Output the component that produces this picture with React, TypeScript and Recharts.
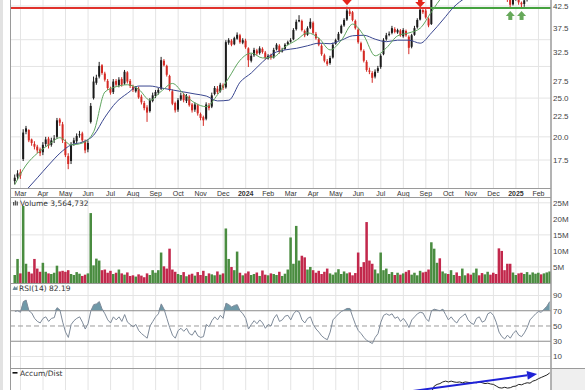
import React from "react";
import {
  ComposedChart,
  Bar,
  Line,
  Area,
  XAxis,
  YAxis,
  CartesianGrid,
  ReferenceLine,
  ReferenceDot,
  Cell,
} from "recharts";

// month axis: 0 = Mar 2023 ... 23 = Feb 2025
const monthLabels = [
  "Mar", "Apr", "May", "Jun", "Jul", "Aug", "Sep", "Oct", "Nov", "Dec", "2024", "Feb",
  "Mar", "Apr", "May", "Jun", "Jul", "Aug", "Sep", "Oct", "Nov", "Dec", "2025", "Feb",
];
const monthTicks = monthLabels.map((_, i) => i);

// bars are sampled 8 per month, first one a week before March 2023
const FIRST_BAR = -0.25;
const BAR_STEP = 0.125;

const opens = [
  15.5, 15.9,
  16.3, 17.6, 20.6, 20.8, 19.7, 19.2, 18.9, 18.6,
  18.3, 19.2, 19.8, 19.1, 19.7, 20.0, 22.1, 21.5,
  19.4, 17.9, 17.4, 19.3, 19.5, 20.2, 20.4, 19.5,
  18.6, 21.8, 25.0, 27.3, 28.3, 30.2, 28.8, 27.6,
  26.4, 25.9, 27.6, 26.9, 27.9, 27.2, 29.0, 27.6,
  26.7, 26.0, 26.4, 25.2, 24.3, 23.7, 23.2, 24.6,
  25.3, 25.8, 26.4, 31.0, 30.1, 28.4, 26.0, 24.3,
  23.4, 24.8, 25.5, 24.6, 25.2, 24.1, 23.4, 24.0,
  22.8, 22.4, 22.2, 24.0, 23.8, 25.6, 26.4, 26.0,
  26.9, 26.6, 34.4, 34.8, 34.1, 35.2, 35.9, 34.4,
  34.8, 33.3, 31.0, 32.0, 32.9, 32.4, 33.2, 32.5,
  31.4, 32.0, 31.6, 33.1, 33.8, 32.7, 33.2, 34.1,
  34.6, 35.1, 37.2, 38.9, 39.0, 36.8, 36.0, 37.5,
  38.6, 36.2, 35.1, 33.8, 32.0, 30.9, 30.6, 31.6,
  34.2, 35.0, 36.4, 38.0, 39.3, 41.2, 41.0, 39.0,
  37.1, 34.3, 32.8, 30.8, 29.3, 28.9, 28.3, 29.2,
  29.9, 32.2, 35.1, 36.0, 36.4, 37.2, 36.5, 36.9,
  35.7, 36.8, 35.6, 33.6, 36.0, 37.6, 39.3, 41.5,
  41.4, 39.5, 38.3, 44.2, 46.2, 47.1, 46.6, 48.2,
  48.4, 47.6, 48.9, 49.4, 48.1, 47.9, 49.1, 50.0,
  48.8, 48.2, 49.6, 50.4, 49.6, 48.8, 49.5, 49.9,
  48.6, 47.4, 46.4, 45.8, 45.4, 45.1, 44.4, 42.9,
  44.1, 44.6, 43.3, 43.0, 44.0, 45.2, 46.6, 47.3,
  48.6, 49.1, 48.5, 50.1, 51.2,
];

const highs = [
  16.1, 16.5,
  16.6, 20.9, 21.3, 20.9, 19.8, 19.5, 19.1, 18.8,
  19.4, 20.0, 20.0, 19.9, 20.2, 22.3, 22.3, 21.8,
  19.7, 18.2, 19.4, 19.9, 20.4, 20.7, 20.6, 19.7,
  19.6, 24.3, 28.3, 28.6, 30.8, 30.4, 29.1, 27.9,
  26.7, 27.9, 27.9, 28.2, 28.2, 29.4, 29.2, 27.9,
  27.0, 26.8, 26.7, 25.5, 24.6, 24.0, 25.0, 25.8,
  26.2, 26.5, 31.7, 31.3, 30.3, 28.6, 26.3, 24.5,
  25.0, 25.8, 25.8, 25.6, 25.4, 24.3, 24.4, 24.2,
  23.0, 22.6, 24.4, 24.3, 25.8, 26.8, 26.8, 27.3,
  27.2, 34.9, 35.3, 35.1, 35.6, 36.5, 36.2, 35.3,
  35.2, 33.5, 32.3, 33.4, 33.2, 33.7, 33.5, 32.8,
  32.2, 32.3, 33.4, 34.3, 34.1, 33.4, 34.3, 34.8,
  35.3, 37.4, 39.3, 40.3, 39.3, 37.1, 37.8, 39.6,
  38.9, 36.6, 35.4, 34.1, 32.3, 31.3, 31.9, 34.4,
  35.2, 36.6, 38.2, 39.6, 42.3, 41.8, 41.3, 39.3,
  37.4, 34.6, 33.1, 31.1, 29.8, 29.2, 29.5, 30.1,
  32.2, 35.3, 36.4, 36.7, 37.9, 37.6, 37.3, 37.2,
  37.4, 37.1, 35.9, 36.2, 37.9, 39.6, 41.9, 41.7,
  41.8, 39.8, 44.5, 46.9, 47.6, 47.5, 48.5, 49.0,
  48.8, 49.2, 50.0, 49.8, 48.5, 49.5, 50.8, 50.4,
  49.2, 50.0, 51.0, 50.8, 49.9, 49.8, 50.5, 50.3,
  48.9, 47.8, 46.8, 46.1, 45.9, 45.4, 44.7, 44.5,
  45.3, 44.9, 43.6, 44.3, 45.4, 46.9, 47.8, 48.9,
  49.5, 49.4, 50.4, 51.5, 53.0,
];

const lows = [
  15.2, 15.6,
  15.7, 17.4, 20.3, 19.4, 19.0, 18.6, 18.2, 17.9,
  18.0, 18.9, 18.7, 18.9, 19.3, 19.8, 21.3, 19.3,
  17.8, 16.6, 17.1, 19.0, 19.2, 19.9, 19.4, 18.2,
  18.3, 21.6, 24.8, 27.0, 28.0, 28.6, 27.5, 26.2,
  25.5, 25.6, 26.7, 26.6, 26.7, 27.0, 27.2, 26.5,
  25.9, 25.8, 24.9, 24.1, 23.3, 21.8, 23.0, 24.4,
  25.0, 25.5, 26.2, 30.0, 28.3, 26.0, 24.0, 23.0,
  23.1, 24.6, 24.4, 24.3, 23.8, 23.0, 23.1, 22.6,
  22.0, 21.3, 22.0, 23.3, 23.6, 25.4, 25.6, 25.8,
  26.2, 26.4, 34.0, 33.7, 33.9, 35.0, 34.2, 34.1,
  33.2, 29.9, 30.7, 31.7, 32.0, 32.1, 32.3, 31.2,
  31.2, 31.2, 31.4, 32.9, 32.3, 32.5, 33.0, 33.9,
  34.4, 34.9, 36.9, 38.7, 36.7, 35.5, 35.8, 37.2,
  36.1, 35.0, 33.7, 31.9, 30.7, 30.1, 30.3, 31.4,
  34.0, 34.8, 36.2, 37.7, 39.0, 40.1, 38.9, 37.1,
  34.2, 32.7, 30.7, 29.1, 28.7, 27.3, 28.0, 28.9,
  29.6, 32.0, 34.8, 35.7, 36.1, 36.3, 36.2, 35.6,
  35.4, 35.6, 32.2, 33.3, 35.8, 37.3, 39.1, 40.6,
  39.5, 37.6, 38.1, 44.0, 45.9, 46.1, 46.4, 47.9,
  47.2, 47.4, 48.6, 47.9, 47.5, 47.6, 48.8, 48.7,
  47.6, 47.9, 49.3, 49.5, 48.3, 48.5, 49.2, 48.5,
  47.2, 46.3, 45.7, 45.2, 44.9, 43.5, 41.9, 42.6,
  43.8, 42.8, 41.9, 42.3, 43.6, 44.9, 46.3, 47.0,
  48.3, 48.1, 48.2, 49.8, 50.9,
];

const closes = [
  15.8, 16.2,
  16.0, 20.5, 21.0, 19.6, 19.3, 18.9, 18.5, 18.2,
  19.1, 19.7, 19.0, 19.6, 19.8, 22.0, 21.7, 19.6,
  18.0, 17.1, 19.1, 19.6, 20.1, 20.3, 19.6, 18.5,
  19.3, 23.9, 27.5, 28.1, 30.1, 28.9, 27.8, 26.5,
  25.8, 27.5, 27.0, 27.8, 27.0, 29.1, 27.5, 26.8,
  26.2, 26.5, 25.1, 24.4, 23.6, 23.0, 24.7, 25.4,
  25.9, 26.2, 31.1, 30.2, 28.6, 26.2, 24.2, 23.3,
  24.7, 25.4, 24.7, 25.3, 24.0, 23.3, 24.1, 22.9,
  22.3, 22.0, 24.1, 23.6, 25.4, 26.5, 25.9, 27.0,
  26.5, 34.5, 34.9, 34.0, 35.3, 36.0, 34.5, 34.9,
  33.5, 31.1, 31.9, 33.0, 32.3, 33.3, 32.6, 31.5,
  31.9, 31.5, 33.0, 34.0, 32.6, 33.0, 34.0, 34.5,
  34.9, 37.0, 38.8, 39.2, 37.0, 35.9, 37.4, 38.8,
  36.4, 35.3, 34.0, 32.2, 31.0, 30.4, 31.5, 34.0,
  34.9, 36.2, 37.9, 39.2, 41.4, 40.6, 39.2, 37.4,
  34.5, 33.0, 31.0, 29.4, 29.1, 28.1, 29.1, 29.7,
  31.9, 34.9, 35.9, 36.2, 37.4, 36.6, 37.0, 35.9,
  37.0, 35.9, 33.4, 35.9, 37.4, 39.2, 41.6, 41.0,
  39.8, 38.0, 44.0, 46.4, 47.0, 46.5, 48.0, 48.5,
  47.5, 48.8, 49.5, 48.2, 47.8, 49.0, 50.2, 49.0,
  48.0, 49.5, 50.5, 49.8, 48.6, 49.4, 50.0, 48.8,
  47.5, 46.6, 46.0, 45.5, 45.2, 44.6, 42.8, 44.0,
  44.8, 43.4, 42.9, 43.9, 45.0, 46.5, 47.2, 48.5,
  49.0, 48.4, 50.0, 51.0, 52.5,
];

// volume in millions
const volumes = [
  2.5, 7.5,
  3.0, 24.0, 6.0, 3.5, 3.0, 7.5, 4.5, 3.5,
  6.3, 3.5, 3.0, 2.8, 3.2, 5.4, 3.6, 3.8,
  3.5, 4.0, 2.8, 2.5, 3.4, 2.9, 2.2, 2.6,
  3.0, 21.8, 5.5, 7.6, 7.0, 4.0, 4.2, 3.2,
  3.8, 2.8, 3.2, 4.2, 3.0, 2.6, 3.3, 2.2,
  2.4, 2.0, 2.7, 2.3, 1.8, 3.0, 2.5, 4.0,
  3.2, 4.0, 9.5, 5.2, 4.5, 10.7, 4.2, 3.5,
  2.8, 2.5, 3.4, 2.1, 2.6, 2.9, 2.3, 3.4,
  2.5, 3.8, 2.2, 3.0, 2.7, 2.4, 3.6, 2.6,
  3.0, 17.0, 7.5, 5.0, 4.0, 9.8, 3.2, 2.4,
  3.0, 3.6, 2.5, 2.8, 3.3, 2.2, 3.9, 2.6,
  2.4, 3.0, 2.8, 2.5, 3.5, 2.2, 2.9, 4.2,
  14.2, 6.0, 17.8, 7.0, 8.5, 8.0, 4.2, 5.0,
  4.0, 3.2, 3.8, 2.8, 3.5, 4.5, 3.0, 2.6,
  3.3, 4.3, 2.8, 3.6, 3.0, 3.3, 2.4, 3.1,
  9.5, 5.0, 6.5, 19.0, 7.0, 6.0, 4.2, 3.0,
  9.5, 4.0, 4.5, 2.8, 3.4, 2.5, 3.2, 2.6,
  3.0, 3.5, 4.0, 2.6, 3.2, 2.4, 3.8, 3.3,
  3.5, 4.2, 12.7, 10.7, 6.3, 7.7, 3.6, 3.0,
  2.8, 4.0, 2.5, 3.3, 2.2, 4.5, 2.4, 3.0,
  2.6, 3.2, 4.5, 2.4, 3.1, 2.7, 3.5, 2.6,
  3.2, 2.8, 10.8, 10.0, 4.0, 6.0, 6.0, 3.3,
  2.5, 3.0, 3.2, 2.8, 3.4, 2.6, 3.3, 2.9,
  3.2, 2.7, 3.0, 3.3, 3.6,
];

const rsiValues = [
  69, 70,
  68, 82, 84, 70, 67, 60, 56, 54,
  60, 62, 56, 60, 61, 74, 71, 55,
  42, 35, 52, 57, 60, 62, 55, 46,
  53, 70, 78, 79, 82, 72, 66, 58,
  54, 62, 58, 62, 56, 65, 55, 52,
  49, 52, 44, 40, 37, 34, 50, 56,
  62, 66, 79, 72, 60, 48, 38, 34,
  44, 47, 43, 47, 40, 38, 44, 37,
  35, 36, 52, 49, 57, 62, 58, 64,
  60, 80, 78, 75, 77, 78, 70, 66,
  60, 46, 52, 57, 53, 58, 54, 47,
  52, 50, 60, 65, 56, 58, 63, 64,
  58, 66, 70, 68, 58, 54, 60, 62,
  52, 46, 42, 37, 34, 32, 42, 58,
  62, 66, 69, 71, 73, 73, 62, 52,
  44, 40, 35, 31, 29, 27, 35, 40,
  55, 64, 66, 64, 66, 60, 62, 56,
  60, 55, 48, 58, 62, 66, 68, 67,
  60, 56, 70, 72, 71, 70, 72, 65,
  58, 62, 57, 54, 60, 63, 66, 58,
  54, 52, 60, 62, 55, 57, 66, 68,
  64, 55, 42, 36, 33, 38, 34, 40,
  44, 38, 36, 41, 48, 58, 62, 66,
  69, 68, 72, 76, 82,
];

// moving averages, read every 4th bar
const MA_STEP = 4;
const maFast = [
  15.2, 17.0, 18.2, 19.1, 19.9, 19.1, 19.3, 20.6,
  25.9, 26.7, 27.0, 26.3, 24.7, 26.0, 27.2, 25.6,
  24.3, 23.8, 25.5, 28.1, 31.1, 32.4, 31.5, 31.7,
  33.6, 34.9, 36.4, 35.3, 33.0, 34.9, 38.3, 35.8,
  31.9, 33.4, 35.8, 36.4, 37.4, 41.1, 44.8, 46.0,
  47.5, 48.5, 49.0, 48.0, 46.0, 44.5, 45.0, 47.0,
];
const maSlow = [
  null, 14.7, 15.8, 17.0, 18.2, 19.1, 19.4, 20.2,
  22.4, 24.4, 25.7, 26.8, 26.8, 26.5, 26.2, 25.9,
  25.6, 25.3, 24.6, 24.7, 27.4, 28.9, 30.8, 32.4,
  33.0, 33.3, 33.8, 34.3, 34.2, 34.9, 35.8, 35.9,
  35.1, 34.6, 34.9, 34.9, 34.3, 36.4, 39.2, 42.3,
  44.5, 46.0, 47.0, 47.3, 47.0, 46.5, 46.3, 46.6,
];

// Accum/Dist (panel units), only the part that shows in the crop
const AD_START = 146;
const adValues = [
  60, 64, 71, 78, 80, 81, 83, 84,
  83, 84, 83, 82.5, 83, 82, 83, 82.5,
  82, 82.5, 82, 83, 82, 81, 81.5, 80.5,
  80, 78, 76, 75.5, 76.5, 75.5, 76, 77.5,
  78, 80, 79.5, 81, 82, 81.5, 84, 85,
  87, 88.5, 90, 91.5, 94,
];

const RESISTANCE = 42;
const BREAKOUT_MONTH = 18.2;
const sellSignals = [{ bar: 118, price: 42.7 }, { bar: 144, price: 42.15 }];
const buySignals = [{ bar: 176, price: 41.3 }, { bar: 180, price: 41.3 }];
const adTrend = [{ x: 17.3, y: 71.5 }, { x: 22.94, y: 92.7 }];

const priceTicks = [17.5, 20, 22.5, 25, 27.5, 30, 32.5, 35, 37.5, 40, 42.5];
const volumeTicks = [5, 10, 15, 20, 25];
const rsiTicks = [10, 30, 50, 70, 90];

const X_DOMAIN: [number, number] = [-0.422, 23.557];
const barM = (i: number) => FIRST_BAR + BAR_STEP * i;

const bars = closes.map((c, i) => {
  const r = rsiValues[i];
  return {
    m: barM(i),
    o: opens[i],
    h: highs[i],
    l: lows[i],
    c,
    up: i === 0 ? c >= opens[i] : c >= closes[i - 1],
    vol: volumes[i],
    rsi: r,
    ob: [70, Math.max(70, r)],
    fast: i % MA_STEP === 0 ? maFast[i / MA_STEP] ?? null : null,
    slow: i % MA_STEP === 0 ? maSlow[i / MA_STEP] ?? null : null,
    ad: i >= AD_START ? adValues[i - AD_START] : null,
  };
});

const GRID = "#e4e4e4";
const FRAME = "#9a9a9a";
const AXIS_FONT = "Liberation Sans, Arial, sans-serif";
const LABEL_FONT = "DejaVu Sans, Verdana, sans-serif";
const axisTick = { fontSize: 8, fill: "#444", fontFamily: AXIS_FONT };

function Candle(props: any) {
  const { x, y, width, height, payload } = props;
  if (x == null || y == null || !payload) return null;
  const top = Math.min(y, y + height);
  const span = Math.abs(height);
  const cx = x + width / 2;
  const lh = Math.log(payload.h);
  const ll = Math.log(payload.l);
  const at = (v: number) => top + (span * (lh - Math.log(v))) / (lh - ll);
  const bTop = at(Math.max(payload.o, payload.c));
  const bBot = at(Math.min(payload.o, payload.c));
  const color = payload.up ? "#1c1c1c" : "#d42a24";
  return (
    <g>
      <line x1={cx} x2={cx} y1={top} y2={top + span} stroke={color} strokeWidth={1} />
      <rect x={cx - 1} y={bTop} width={2} height={Math.max(1, bBot - bTop)} fill={color} />
    </g>
  );
}

function MonthTick(props: any) {
  const { x, y, payload } = props;
  const label = monthLabels[payload.value];
  const isYear = /^\d{4}$/.test(label);
  return (
    <text
      x={x}
      y={y + 8}
      textAnchor="middle"
      fontSize={7}
      fontFamily={AXIS_FONT}
      fontWeight={isYear ? 700 : 400}
      fill="#333"
    >
      {label}
    </text>
  );
}

function DownArrow(props: any) {
  const { cx, cy } = props;
  return (
    <g fill="#e4261c">
      <rect x={cx - 2.2} y={cy - 12} width={4.4} height={7} />
      <polygon points={`${cx - 5},${cy - 5.5} ${cx + 5},${cy - 5.5} ${cx},${cy}`} />
    </g>
  );
}

function UpArrow(props: any) {
  const { cx, cy } = props;
  return (
    <g fill="#66a85a">
      <polygon points={`${cx - 4.5},${cy + 5} ${cx + 4.5},${cy + 5} ${cx},${cy}`} />
      <rect x={cx - 2} y={cy + 5} width={4} height={4} />
    </g>
  );
}

function TrendArrow(props: any) {
  const { x1, y1, x2, y2 } = props;
  if (x1 == null) return null;
  const a = Math.atan2(y2 - y1, x2 - x1);
  const len = 10;
  const hw = 4.5;
  const bx = x2 - len * Math.cos(a);
  const by = y2 - len * Math.sin(a);
  const px = -Math.sin(a) * hw;
  const py = Math.cos(a) * hw;
  return (
    <g>
      <line x1={x1} y1={y1} x2={bx} y2={by} stroke="#1f22d6" strokeWidth={2} />
      <polygon
        points={`${x2},${y2} ${bx + px},${by + py} ${bx - px},${by - py}`}
        fill="#1f22d6"
      />
    </g>
  );
}

const CHART_W = 585;
const AXIS_W = 34;

export default function App() {
  return (
    <div
      style={{
        position: "absolute",
        left: 0,
        top: 0,
        width: 585,
        height: 390,
        overflow: "hidden",
        background: "#fff",
      }}
    >
      {/* price panel */}
      <div style={{ position: "absolute", left: 0, top: 0 }}>
        <ComposedChart
          width={CHART_W}
          height={198}
          data={bars}
          margin={{ top: 0, right: 0, left: 11, bottom: 0 }}
        >
          <CartesianGrid stroke={GRID} verticalValues={monthTicks} horizontalValues={priceTicks} />
          <XAxis
            dataKey="m"
            type="number"
            domain={X_DOMAIN}
            allowDataOverflow
            ticks={monthTicks}
            interval={0}
            height={10}
            axisLine={false}
            tickLine={false}
            tickSize={0}
            tickMargin={0}
            tick={<MonthTick />}
          />
          <YAxis
            orientation="right"
            scale="log"
            domain={[14.896, 43.99]}
            allowDataOverflow
            ticks={priceTicks}
            tickFormatter={(v: number) => v.toFixed(1)}
            width={AXIS_W}
            axisLine={false}
            tickLine={false}
            tickSize={0}
            tickMargin={2}
            tick={axisTick}
          />
          <ReferenceLine
            segment={[{ x: X_DOMAIN[0], y: RESISTANCE }, { x: BREAKOUT_MONTH, y: RESISTANCE }]}
            stroke="#e0322c"
            strokeWidth={2}
          />
          <ReferenceLine
            segment={[{ x: BREAKOUT_MONTH, y: RESISTANCE }, { x: X_DOMAIN[1], y: RESISTANCE }]}
            stroke="#45a23f"
            strokeWidth={2}
          />
          <Bar
            dataKey={(d: any) => [d.l, d.h]}
            barSize={3}
            shape={(p: any) => <Candle {...p} />}
            isAnimationActive={false}
          />
          <Line
            dataKey="slow"
            stroke="#3a4790"
            strokeWidth={1}
            dot={false}
            connectNulls
            type="monotone"
            isAnimationActive={false}
          />
          <Line
            dataKey="fast"
            stroke="#5fa55f"
            strokeWidth={1}
            dot={false}
            connectNulls
            type="monotone"
            isAnimationActive={false}
          />
          {sellSignals.map((s) => (
            <ReferenceDot
              key={`s${s.bar}`}
              x={barM(s.bar)}
              y={s.price}
              r={5}
              shape={(p: any) => <DownArrow {...p} />}
            />
          ))}
          {buySignals.map((s) => (
            <ReferenceDot
              key={`b${s.bar}`}
              x={barM(s.bar)}
              y={s.price}
              r={5}
              shape={(p: any) => <UpArrow {...p} />}
            />
          ))}
        </ComposedChart>
      </div>

      {/* volume panel */}
      <div style={{ position: "absolute", left: 0, top: 198 }}>
        <ComposedChart
          width={CHART_W}
          height={85}
          data={bars}
          margin={{ top: 0, right: 0, left: 11, bottom: 0 }}
        >
          <CartesianGrid stroke={GRID} verticalValues={monthTicks} horizontalValues={volumeTicks} />
          <XAxis dataKey="m" type="number" domain={X_DOMAIN} allowDataOverflow hide />
          <YAxis
            orientation="right"
            domain={[0, 26.5]}
            allowDataOverflow
            ticks={volumeTicks}
            tickFormatter={(v: number) => `${v}M`}
            width={AXIS_W}
            axisLine={false}
            tickLine={false}
            tickSize={0}
            tickMargin={2}
            tick={axisTick}
          />
          <Bar dataKey="vol" barSize={3} isAnimationActive={false}>
            {bars.map((b, i) => (
              <Cell key={i} fill={b.up ? "#4a8c40" : "#c2284c"} />
            ))}
          </Bar>
        </ComposedChart>
      </div>

      {/* RSI panel */}
      <div style={{ position: "absolute", left: 0, top: 283 }}>
        <ComposedChart
          width={CHART_W}
          height={85}
          data={bars}
          margin={{ top: 0, right: 0, left: 11, bottom: 0 }}
        >
          <CartesianGrid stroke={GRID} verticalValues={monthTicks} horizontalValues={[10, 90]} />
          <XAxis dataKey="m" type="number" domain={X_DOMAIN} allowDataOverflow hide />
          <YAxis
            orientation="right"
            domain={[-5.1, 106.4]}
            allowDataOverflow
            ticks={rsiTicks}
            width={AXIS_W}
            axisLine={false}
            tickLine={false}
            tickSize={0}
            tickMargin={2}
            tick={axisTick}
          />
          <ReferenceLine y={70} stroke="#8c8c8c" />
          <ReferenceLine y={30} stroke="#8c8c8c" />
          <ReferenceLine y={50} stroke="#9a9a9a" strokeDasharray="5 3" />
          <Area
            dataKey="ob"
            type="linear"
            fill="#5f8e9f"
            fillOpacity={0.9}
            stroke="none"
            isAnimationActive={false}
          />
          <Line
            dataKey="rsi"
            stroke="#7e8a99"
            strokeWidth={1}
            dot={false}
            type="linear"
            isAnimationActive={false}
          />
        </ComposedChart>
      </div>

      {/* Accum/Dist panel */}
      <div style={{ position: "absolute", left: 0, top: 368 }}>
        <ComposedChart
          width={CHART_W}
          height={82}
          data={bars}
          margin={{ top: 0, right: AXIS_W, left: 11, bottom: 0 }}
        >
          <CartesianGrid stroke={GRID} verticalValues={monthTicks} horizontalValues={[90]} />
          <XAxis dataKey="m" type="number" domain={X_DOMAIN} allowDataOverflow hide />
          <YAxis domain={[0, 100]} allowDataOverflow hide />
          <Line
            dataKey="ad"
            stroke="#222"
            strokeWidth={1}
            dot={false}
            type="linear"
            isAnimationActive={false}
          />
          <ReferenceLine
            segment={adTrend}
            ifOverflow="visible"
            shape={(p: any) => <TrendArrow {...p} />}
          />
        </ComposedChart>
      </div>

      {/* frames and panel titles */}
      <svg
        width={585}
        height={390}
        style={{ position: "absolute", left: 0, top: 0, pointerEvents: "none" }}
      >
        <rect x={0} y={0} width={3} height={390} fill="#e2e2e2" />
        <rect x={551.5} y={368.5} width={34} height={22} fill="#efefef" />
        <line x1={10.5} y1={0} x2={10.5} y2={390} stroke={FRAME} />
        <line x1={551} y1={0} x2={551} y2={390} stroke={FRAME} strokeWidth={1.5} />
        <line x1={10.5} y1={188.5} x2={551} y2={188.5} stroke={FRAME} />
        <line x1={10.5} y1={197.5} x2={551} y2={197.5} stroke={FRAME} />
        <line x1={10.5} y1={283.5} x2={551} y2={283.5} stroke={FRAME} />
        <line x1={10.5} y1={368.5} x2={585} y2={368.5} stroke={FRAME} />

        <g fill="#555">
          <rect x={13} y={202} width={1.3} height={3.5} />
          <rect x={14.8} y={200.5} width={1.3} height={5} />
          <rect x={16.6} y={201.5} width={1.3} height={4} />
        </g>
        <text x={20} y={205.5} fontSize={7.5} fontFamily={LABEL_FONT} fill="#333">
          Volume 3,564,732
        </text>

        <polygon points="12.5,290 14.5,286 16,288 17.5,285.5 17.5,290" fill="#6f8d9c" />
        <text x={19} y={290.5} fontSize={7.5} fontFamily={LABEL_FONT} fill="#333">
          RSI(14) 82.19
        </text>

        <rect x={12.5} y={372} width={5} height={1.6} fill="#111" />
        <text x={20} y={375.5} fontSize={7.5} fontFamily={LABEL_FONT} fill="#333">
          Accum/Dist
        </text>
      </svg>
    </div>
  );
}
